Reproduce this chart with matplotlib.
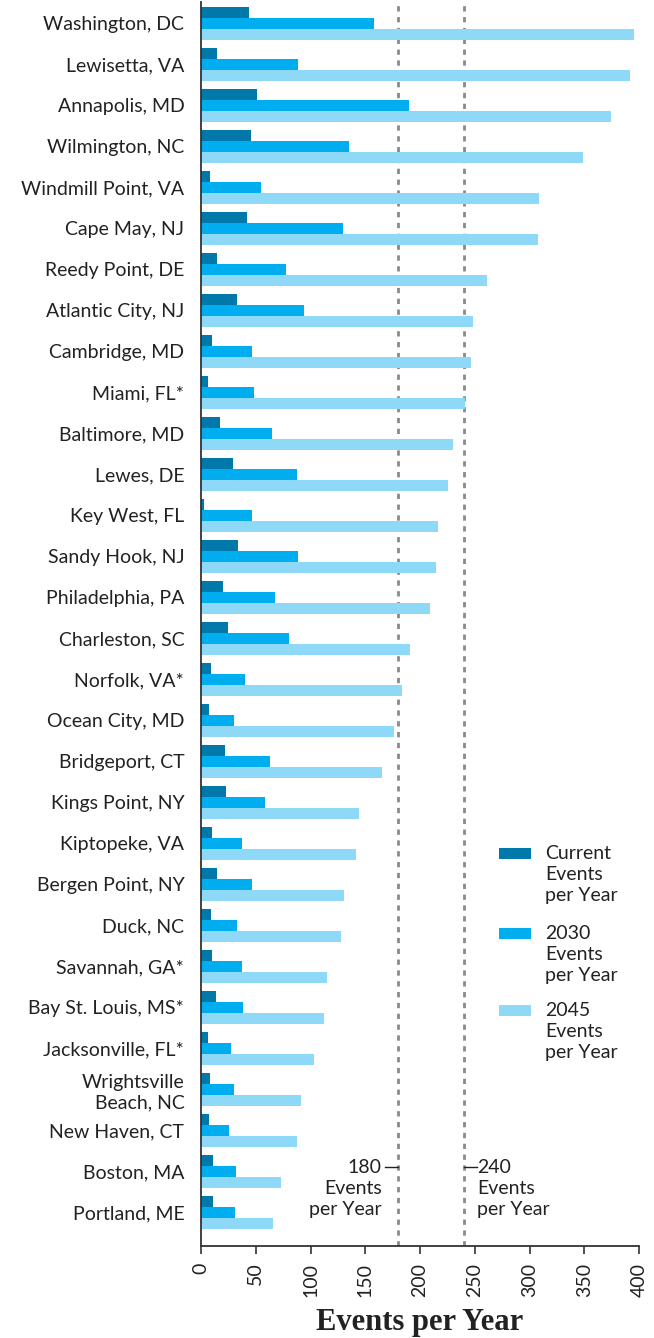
import matplotlib

matplotlib.use("Agg")

import matplotlib.pyplot as plt
import numpy as np
from matplotlib.patches import Rectangle


OUTPUT_FILENAME = "out.png"

# Data (events per year)
cities = [
    "Washington, DC", "Lewisetta, VA", "Annapolis, MD", "Wilmington, NC",
    "Windmill Point, VA", "Cape May, NJ", "Reedy Point, DE",
    "Atlantic City, NJ", "Cambridge, MD", "Miami, FL*", "Baltimore, MD",
    "Lewes, DE", "Key West, FL", "Sandy Hook, NJ", "Philadelphia, PA",
    "Charleston, SC", "Norfolk, VA*", "Ocean City, MD", "Bridgeport, CT",
    "Kings Point, NY", "Kiptopeke, VA", "Bergen Point, NY", "Duck, NC",
    "Savannah, GA*", "Bay St. Louis, MS*", "Jacksonville, FL*",
    "Wrightsville\nBeach, NC", "New Haven, CT", "Boston, MA", "Portland, ME",
]
current = [44, 15, 51, 46, 8, 42, 15, 33, 10, 6, 17, 29, 3, 34, 20,
           25, 9, 7, 22, 23, 10, 15, 9, 10, 14, 6, 8, 7, 11, 11]
events_2030 = [158, 89, 190, 135, 55, 130, 78, 94, 47, 48, 65, 88, 47, 89, 68,
               80, 40, 30, 63, 58, 37, 47, 33, 37, 38, 27, 30, 26, 32, 31]
events_2045 = [395, 392, 374, 349, 309, 308, 261, 248, 247, 241, 230, 226, 216,
               215, 209, 191, 184, 176, 165, 144, 142, 131, 128, 115, 112, 103,
               91, 88, 73, 66]
series_labels = ["Current\nEvents\nper Year", "2030\nEvents\nper Year",
                 "2045\nEvents\nper Year"]
thresholds = [180, 240]
x_ticks = list(range(0, 401, 50))

COLORS = ["#0079AA", "#00AEEF", "#8ED8F8"]
FONT = ["Lato", "DejaVu Sans"]
TEXT_COLOR = "#222222"
FONT_SIZE = 14
LINE_SPACING = 1.27

FIG_W, FIG_H = 654, 1338
AX_LEFT, AX_RIGHT, AX_TOP, AX_BOTTOM = 201, 639, 2, 1246


def main() -> None:
    plt.rcParams["font.family"] = FONT

    fig = plt.figure(figsize=(FIG_W / 100, FIG_H / 100), dpi=100)
    ax = fig.add_axes([
        AX_LEFT / FIG_W, 1 - AX_BOTTOM / FIG_H,
        (AX_RIGHT - AX_LEFT) / FIG_W, (AX_BOTTOM - AX_TOP) / FIG_H,
    ])

    y = np.arange(len(cities))
    bar_h = 0.268

    for offset, values, color in zip(
        (-bar_h, 0, bar_h), (current, events_2030, events_2045), COLORS
    ):
        ax.barh(y + offset, values, height=bar_h, color=color, linewidth=0)

    for value in thresholds:
        ax.axvline(value, color="#8a8a8a", linewidth=2.0,
                   linestyle=(0, (1.9, 2.0)), zorder=0)

    ax.set_xlim(0, 400)
    ax.set_ylim(len(cities) - 1 + 0.817, -0.524)

    # Threshold annotations near the bottom; multi-line text with
    # va="baseline" is anchored on the baseline of its last line.
    ann_base = 29.06
    ann_tick = 27.89
    left_val, right_val = thresholds
    ax.plot([left_val - 12, left_val], [ann_tick, ann_tick],
            color=TEXT_COLOR, lw=1)
    ax.plot([right_val, right_val + 12], [ann_tick, ann_tick],
            color=TEXT_COLOR, lw=1)
    ax.text(left_val - 15, ann_base, f"{left_val}\nEvents\nper Year",
            ha="right", va="baseline", fontsize=FONT_SIZE, color=TEXT_COLOR,
            linespacing=LINE_SPACING, multialignment="right")
    ax.text(right_val + 12.5, ann_base, f"{right_val}\nEvents\nper Year",
            ha="left", va="baseline", fontsize=FONT_SIZE, color=TEXT_COLOR,
            linespacing=LINE_SPACING, multialignment="left")

    ax.set_xticks(x_ticks)
    ax.set_xticklabels([str(t) for t in x_ticks], rotation=90,
                       fontsize=FONT_SIZE, color=TEXT_COLOR)
    ax.set_yticks(y)
    ax.set_yticklabels(cities, fontsize=FONT_SIZE, color=TEXT_COLOR,
                       linespacing=LINE_SPACING)
    ax.tick_params(axis="y", length=0, pad=12)
    ax.tick_params(axis="x", length=6, width=1.2, color="#333333", pad=6)

    for side in ("top", "right"):
        ax.spines[side].set_visible(False)
    for side in ("left", "bottom"):
        ax.spines[side].set_color("#333333")
        ax.spines[side].set_linewidth(1.3)

    ax.set_xlabel("Events per Year", fontsize=22, fontweight="bold",
                  family=["Liberation Serif", "DejaVu Serif"],
                  color=TEXT_COLOR, labelpad=8)

    # Legend drawn by hand so the swatch sits on the first line of text
    legend_rows = [853, 933, 1010]
    for label, color, py in zip(series_labels, COLORS, legend_rows):
        fig.add_artist(Rectangle(
            (499 / FIG_W, 1 - (py + 5.5) / FIG_H), 32 / FIG_W, 11 / FIG_H,
            transform=fig.transFigure, color=color, linewidth=0))
        fig.text(545 / FIG_W, 1 - (py + 48) / FIG_H, label, ha="left",
                 va="baseline", fontsize=FONT_SIZE, color=TEXT_COLOR,
                 linespacing=LINE_SPACING)

    fig.savefig(OUTPUT_FILENAME, dpi=100)
    plt.close(fig)


if __name__ == "__main__":
    main()
